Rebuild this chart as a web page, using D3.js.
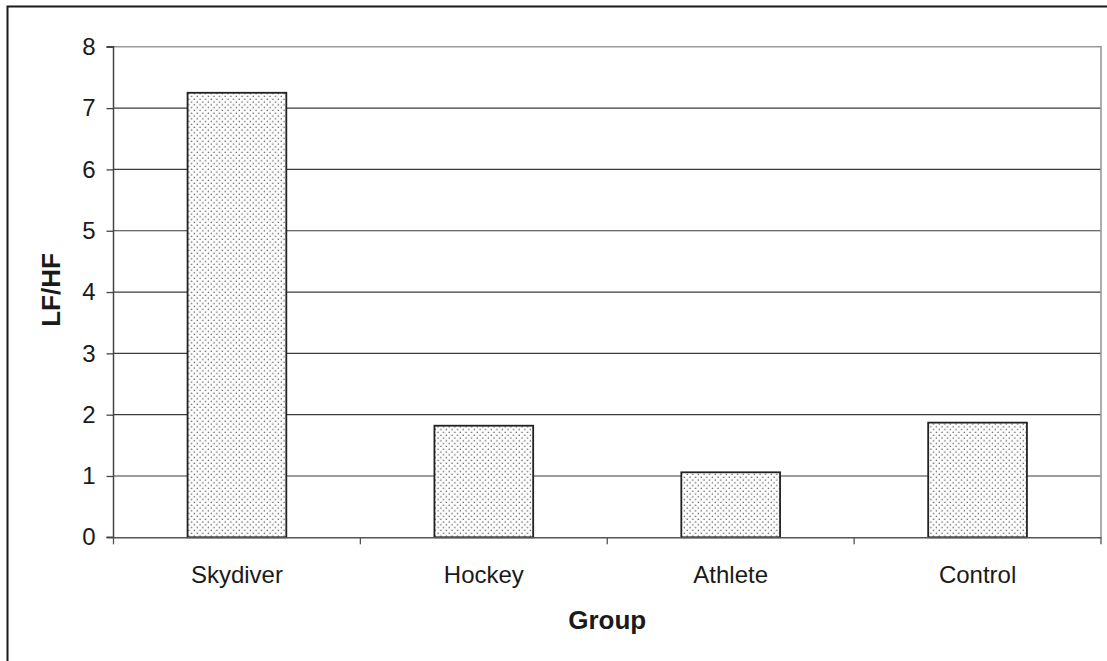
<!DOCTYPE html>
<html>
<head>
<meta charset="utf-8">
<script src="https://cdn.jsdelivr.net/npm/d3@7"></script>
<style>
  html, body { margin: 0; padding: 0; background: #fff; }
  svg { display: block; }
  text { font-family: "Liberation Sans", Arial, sans-serif; fill: #1a1a1a; }
</style>
</head>
<body>
<script>
const categories = ["Skydiver", "Hockey", "Athlete", "Control"];
const values = [7.25, 1.82, 1.06, 1.87];
const yTicks = [0, 1, 2, 3, 4, 5, 6, 7, 8];
const xTitle = "Group";
const yTitle = "LF/HF";

const W = 1107, H = 661;
const plotLeft = 113.5, plotRight = 1101, plotTop = 46.8, plotBottom = 537.3;

const svg = d3.select("body").append("svg").attr("width", W).attr("height", H);

// dotted pattern
const defs = svg.append("defs");
const pat = defs.append("pattern")
  .attr("id", "dots").attr("patternUnits", "userSpaceOnUse")
  .attr("width", 5.6).attr("height", 5.6);
pat.append("rect").attr("width", 5.6).attr("height", 5.6).attr("fill", "#fff");
pat.append("rect").attr("x", 0.6).attr("y", 0.6).attr("width", 1.3).attr("height", 1.3).attr("fill", "#555");
pat.append("rect").attr("x", 3.4).attr("y", 3.4).attr("width", 1.3).attr("height", 1.3).attr("fill", "#555");

// outer frame
svg.append("path")
  .attr("d", `M7.5,${H} L7.5,6.5 L${W},6.5`)
  .attr("fill", "none").attr("stroke", "#1a1a1a").attr("stroke-width", 2);

const x = d3.scaleBand().domain(categories).range([plotLeft, plotRight]).paddingInner(0).paddingOuter(0);
const y = d3.scaleLinear().domain([0, 8]).range([plotBottom, plotTop]);

// gridlines
svg.append("g").selectAll("line").data(yTicks.filter(t => t > 0 && t < 8)).join("line")
  .attr("x1", plotLeft).attr("x2", plotRight)
  .attr("y1", d => y(d)).attr("y2", d => y(d))
  .attr("stroke", "#3a3a3a").attr("stroke-width", 1.2);

// plot area border top/right
svg.append("path")
  .attr("d", `M${plotLeft},${y(8)} L${plotRight},${y(8)} L${plotRight},${plotBottom}`)
  .attr("fill", "none").attr("stroke", "#999").attr("stroke-width", 1.6);

// bars
const bw = x.bandwidth() * 0.4;
svg.append("g").selectAll("rect").data(categories).join("rect")
  .attr("x", d => x(d) + (x.bandwidth() - bw) / 2)
  .attr("width", bw)
  .attr("y", (d, i) => y(values[i]))
  .attr("height", (d, i) => y(0) - y(values[i]))
  .attr("fill", "url(#dots)")
  .attr("stroke", "#222").attr("stroke-width", 1.8);

// y axis
const yAxis = d3.axisLeft(y).tickValues(yTicks).tickSize(7).tickPadding(11).tickFormat(d3.format("d"));
const gy = svg.append("g").attr("transform", `translate(${plotLeft},0)`).call(yAxis);
gy.select(".domain").attr("stroke", "#444").attr("stroke-width", 1.5).attr("d", `M-7,${y(8)}H0V${plotBottom}H-7`);
gy.selectAll(".tick line").attr("stroke", "#444").attr("stroke-width", 1.3);
gy.selectAll(".tick text").attr("font-size", 24).attr("fill", "#1a1a1a")
  .attr("font-family", "Liberation Sans, Arial, sans-serif");

// x axis
const xAxis = d3.axisBottom(x).tickSize(0).tickPadding(28.5);
const gx = svg.append("g").attr("transform", `translate(0,${plotBottom})`).call(xAxis);
gx.select(".domain").attr("stroke", "#555").attr("stroke-width", 1.5);
gx.selectAll(".tick text").attr("font-size", 24).attr("fill", "#1a1a1a")
  .attr("font-family", "Liberation Sans, Arial, sans-serif");
// boundary ticks
const bounds = categories.map(c => x(c)).concat([plotRight]);
gx.append("g").selectAll("line").data(bounds).join("line")
  .attr("x1", d => d).attr("x2", d => d).attr("y1", 0).attr("y2", 7)
  .attr("stroke", "#555").attr("stroke-width", 1.3);

// titles
svg.append("text").attr("x", (plotLeft + plotRight) / 2).attr("y", 629.3)
  .attr("text-anchor", "middle").attr("font-size", 26).attr("font-weight", "bold").text(xTitle);
svg.append("text").attr("transform", `translate(59.5,290) rotate(-90)`)
  .attr("text-anchor", "middle").attr("font-size", 26).attr("font-weight", "bold").text(yTitle);
</script>
</body>
</html>
